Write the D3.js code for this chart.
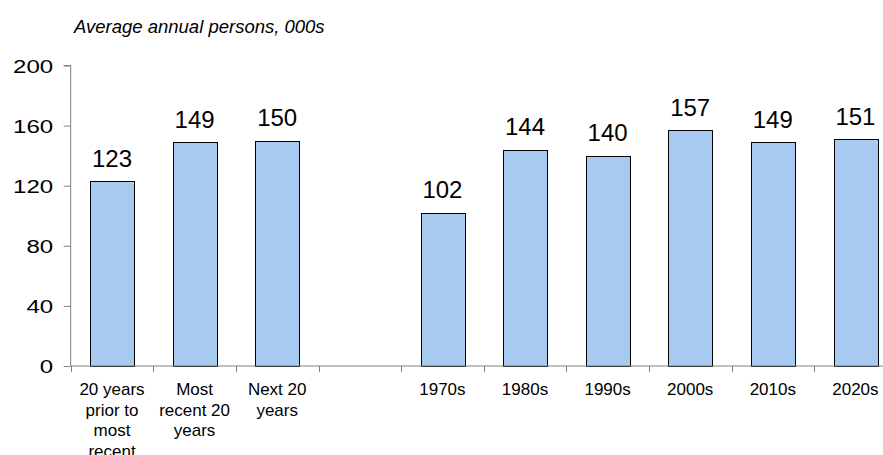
<!DOCTYPE html>
<html>
<head>
<meta charset="utf-8">
<script src="https://cdn.jsdelivr.net/npm/d3@7"></script>
<style>
  html, body { margin: 0; padding: 0; background: #ffffff; }
  svg { display: block; }
  text { font-family: "Liberation Sans", Arial, sans-serif; fill: #000; }
</style>
</head>
<body>
<svg id="chart" width="883" height="455"></svg>
<script>
// ---- data ----
const categories = [
  "20 years\nprior to\nmost\nrecent",
  "Most\nrecent 20\nyears",
  "Next 20\nyears",
  "",
  "1970s",
  "1980s",
  "1990s",
  "2000s",
  "2010s",
  "2020s"
];
const values = [123, 149, 150, null, 102, 144, 140, 157, 149, 151];
const yTicks = [0, 40, 80, 120, 160, 200];
const title = "Average annual persons, 000s";

// ---- layout ----
const W = 883, H = 455;
const x0 = 70.7, step = 82.6;
const yBase = 366, yTop = 65.5;

const svg = d3.select("#chart");

const x = d3.scaleBand()
  .domain(d3.range(categories.length))
  .range([x0, x0 + step * categories.length])
  .paddingInner(0.47)
  .paddingOuter(0.235);

const y = d3.scaleLinear().domain([0, 200]).range([yBase, yTop]);

// title
svg.append("text")
  .attr("x", 74).attr("y", 32.5)
  .style("font-size", "18.5px")
  .style("font-style", "italic")
  .text(title);

// bars
const data = categories.map((c, i) => ({ i, c, v: values[i] })).filter(d => d.v != null);

svg.append("g").selectAll("rect")
  .data(data).join("rect")
  .attr("x", d => Math.round(x(d.i)) + 0.5)
  .attr("y", d => Math.round(y(d.v)) + 0.5)
  .attr("width", Math.round(x.bandwidth()))
  .attr("height", d => Math.round(yBase) - Math.round(y(d.v)))
  .attr("fill", "#A7CAF0")
  .attr("stroke", "#000")
  .attr("stroke-width", 1);

// value labels
svg.append("g").selectAll("text")
  .data(data).join("text")
  .attr("x", d => x(d.i) + x.bandwidth() / 2)
  .attr("y", d => y(d.v) - 14.5)
  .attr("text-anchor", "middle")
  .style("font-size", "24px")
  .text(d => d.v);

// y axis
const yAxis = svg.append("g")
  .attr("transform", `translate(${x0},0)`)
  .call(d3.axisLeft(y).tickValues(yTicks).tickSize(7).tickPadding(0).tickFormat(d3.format("d")));
yAxis.select(".domain").attr("stroke", "#808080").attr("d", `M-7,${y(200)}H0V${y(0)}`);
yAxis.selectAll(".tick line").attr("stroke", "#808080");
yAxis.selectAll(".tick text")
  .attr("x", null)
  .attr("dy", "0.36em")
  .attr("transform", "translate(-17.5,0) scale(1.3,1)")
  .style("font-size", "18.5px")
  .style("font-family", "'Liberation Sans', Arial, sans-serif")
  .attr("fill", "#000");

// x axis (ticks at band boundaries)
const gx = svg.append("g");
gx.append("line")
  .attr("x1", x0).attr("x2", W)
  .attr("y1", yBase).attr("y2", yBase)
  .attr("stroke", "#808080");
gx.selectAll("line.tk")
  .data(d3.range(categories.length + 1)).join("line")
  .attr("class", "tk")
  .attr("x1", i => Math.round(x0 + x.step() * i) + 0.5)
  .attr("x2", i => Math.round(x0 + x.step() * i) + 0.5)
  .attr("y1", yBase).attr("y2", yBase + 6)
  .attr("stroke", "#808080");

const lbl = gx.selectAll("text.lbl")
  .data(categories.map((c, i) => ({ c, i }))).join("text")
  .attr("class", "lbl")
  .attr("text-anchor", "middle")
  .attr("x", d => x(d.i) + x.bandwidth() / 2)
  .attr("y", 395)
  .style("font-size", "17px");
lbl.each(function(d) {
  const lines = d.c.split("\n");
  d3.select(this).selectAll("tspan").data(lines).join("tspan")
    .attr("x", x(d.i) + x.bandwidth() / 2)
    .attr("dy", (l, k) => k === 0 ? 0 : 20.7)
    .text(l => l);
});
</script>
</body>
</html>
